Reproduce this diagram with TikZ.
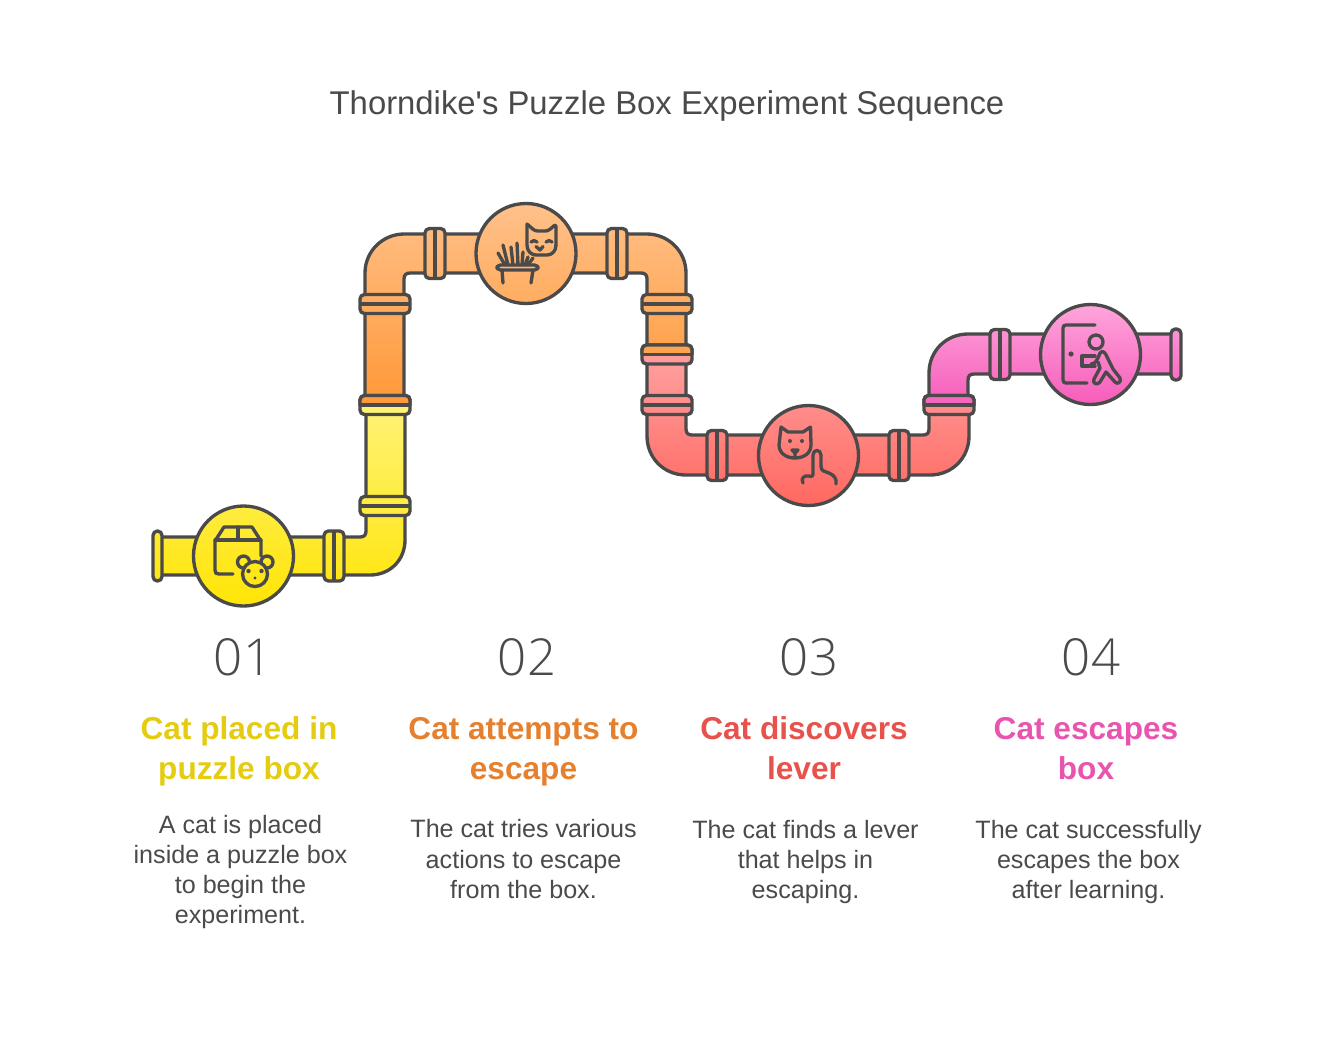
\documentclass[tikz,border=0pt]{standalone}
\usepackage{fontspec}
\setmainfont{Liberation Sans}
\newfontfamily\lightfont{Open Sans Light}
\usepackage{xcolor}
\usepackage{tikz}
\definecolor{inkgray}{RGB}{74,74,74}
\definecolor{yellowtop}{RGB}{255,243,125}
\definecolor{yellowbot}{RGB}{255,229,5}
\definecolor{orangetop}{RGB}{255,193,138}
\definecolor{orangebot}{RGB}{255,152,55}
\definecolor{redtop}{RGB}{255,160,160}
\definecolor{redbot}{RGB}{255,104,96}
\definecolor{pinktop}{RGB}{255,166,220}
\definecolor{pinkbot}{RGB}{246,92,186}
\definecolor{headyellow}{RGB}{229,204,16}
\definecolor{headorange}{RGB}{229,129,46}
\definecolor{headred}{RGB}{232,82,77}
\definecolor{headpink}{RGB}{232,85,174}
\tikzset{
  pipeline/.style={draw=inkgray,line width=1.9pt,line join=round},
  iconline/.style={draw=inkgray,line width=1.9pt,line cap=round,line join=round},
  yellowfill/.style={pipeline,path picture={\shade[top color=yellowtop,bottom color=yellowbot] (0,395) rectangle (1334,607);}},
  orangefill/.style={pipeline,path picture={\shade[top color=orangetop,bottom color=orangebot] (0,202) rectangle (1334,405);}},
  redfill/.style={pipeline,path picture={\shade[top color=redtop,bottom color=redbot] (0,354) rectangle (1334,507);}},
  pinkfill/.style={pipeline,path picture={\shade[top color=pinktop,bottom color=pinkbot] (0,303) rectangle (1334,405);}}
}
% upright flange across a horizontal run
\newcommand{\flangeV}[3]{
  \draw[#3,rounded corners=2.5pt] (#1-10,#2-25) rectangle (#1+10,#2+25);
  \draw[pipeline] (#1,#2-25)--(#1,#2+25);
}
% flat flange across a vertical run
\newcommand{\flangeH}[3]{
  \draw[#3,rounded corners=2.5pt] (#1-25,#2-9.5) rectangle (#1+25,#2+9.5);
  \draw[pipeline] (#1-25,#2)--(#1+25,#2);
}
% flat flange where two colours meet
\newcommand{\flangeJoin}[4]{
  \draw[#4,rounded corners=2.5pt] (#1-25,#2-9.5) rectangle (#1+25,#2+9.5);
  \begin{scope}
    \clip (#1-30,#2-14) rectangle (#1+30,#2);
    \draw[#3,rounded corners=2.5pt] (#1-25,#2-9.5) rectangle (#1+25,#2+9.5);
  \end{scope}
  \draw[pipeline] (#1-25,#2)--(#1+25,#2);
}
\begin{document}
\begin{tikzpicture}[
  x=0.02cm,y=-0.02cm,
  titletext/.style={font=\fontsize{18.7}{22}\selectfont,text=inkgray},
  numtext/.style={font=\lightfont\fontsize{29}{34}\selectfont,text=inkgray},
  headtext/.style={font=\bfseries\fontsize{18}{22.7}\selectfont,align=center},
  bodytext/.style={font=\fontsize{14.3}{17.1}\selectfont,align=center,text=inkgray}
]
\useasboundingbox (0,0) rectangle (1334,1052);

\node[titletext] (title) at (667,106) {Thorndike\textquotesingle s Puzzle Box Experiment Sequence};

% pipe runs
\draw[yellowfill] (160,537)--(360,537).. controls (364,537) and (366,535) .. (366,531)
  --(366,405)--(405,405)--(405,540).. controls (405,560) and (390,575) .. (370,575)--(160,575)--cycle;
\draw[orangefill] (365,405)--(365,273).. controls (365,251) and (383,234) .. (404,234)
  --(647,234).. controls (668,234) and (686,251) .. (686,273)--(686,354)--(647,354)--(647,279)
  .. controls (647,275) and (645,273) .. (641,273)--(410,273).. controls (406,273) and (404,275) .. (404,279)--(404,405)--cycle;
\draw[redfill] (647,354)--(647,436).. controls (647,458) and (664,475) .. (686,475)
  --(930,475).. controls (952,475) and (969,458) .. (969,436)--(969,405)--(929,405)--(929,429)
  .. controls (929,433) and (927,435) .. (923,435)--(692,435).. controls (688,435) and (686,433) .. (686,429)--(686,354)--cycle;
\draw[pinkfill] (929,405)--(929,373).. controls (929,351) and (946,334) .. (968,334)
  --(1175,334)--(1175,374)--(974,374).. controls (970,374) and (968,376) .. (968,380)--(968,405)--cycle;

% flanges
\draw[yellowfill,rounded corners=2.5pt] (153,531) rectangle (162,581);
\flangeV{334}{556}{yellowfill}
\flangeH{385}{506}{yellowfill}
\flangeJoin{385}{405}{orangefill}{yellowfill}
\flangeH{385}{304}{orangefill}
\flangeV{435}{253.5}{orangefill}
\flangeV{617}{253.5}{orangefill}
\flangeH{667}{304}{orangefill}
\flangeJoin{667}{354.5}{orangefill}{redfill}
\flangeH{667}{405}{redfill}
\flangeV{717}{455.5}{redfill}
\flangeV{899}{455.5}{redfill}
\flangeJoin{949}{405}{pinkfill}{redfill}
\flangeV{1000}{354.5}{pinkfill}
\draw[pinkfill,rounded corners=2.5pt] (1171,329) rectangle (1181,380);

% hubs
\draw[yellowfill] (243.5,556) circle[radius=50];
\draw[orangefill] (526,253.5) circle[radius=50];
\draw[redfill] (808.5,455.5) circle[radius=50];
\draw[pinkfill] (1090.5,354.5) circle[radius=50];

% box and bear
\draw[iconline] (233,574)--(219,574).. controls (216,574) and (215,573) .. (215,570)--(215,541)--(224,527)--(252,527)--(261,541)--(261,556);
\draw[iconline] (215,540)--(261,540) (238,527)--(238,540);
\draw[yellowfill,iconline] (243.5,562) circle[radius=6];
\draw[yellowfill,iconline] (267,562) circle[radius=6];
\draw[yellowfill,iconline] (255,574) circle[radius=12.5];
\fill[inkgray] (248.5,571) circle[radius=2.2] (261.5,571) circle[radius=2.2] (255,578) circle[radius=1.6];

% cat on a spiky table
\draw[iconline,rounded corners=1.5pt] (527,224)--(535,231)--(548,231)--(556,224)--(556,245);
\draw[iconline] (556,245).. controls (556,251) and (552,255) .. (547,255)--(536,255).. controls (531,255) and (527,251) .. (527,245)--(527,224);
\draw[iconline] (531,242).. controls (533,240) and (535,240) .. (537,242) (546,242).. controls (548,240) and (550,240) .. (552,242);
\draw[iconline] (536,246.5)--(540,250)--(543,246.5);
\draw[iconline,rounded corners=2pt] (497,265) rectangle (538,270);
\draw[iconline] (502,270)--(503,283) (533,270)--(531,283);
\draw[iconline] (498,253)--(505,265) (503,245)--(508,265) (511,247)--(513,265) (517,243)--(518,265) (523,252)--(522,265) (528,257)--(525,265) (533,258)--(528,265);

% cat and pointing hand
\draw[iconline] (781,427)--(788,432)--(803,432)--(810.5,427)--(811,445).. controls (811,453) and (804,458) .. (795,458).. controls (786,458) and (779,453) .. (779,445)--cycle;
\fill[inkgray] (790,441) circle[radius=2] (802,441) circle[radius=2];
\draw[iconline] (792,450)--(798,450)--(795,453)--cycle (795,453)--(795,457);
\draw[iconline] (803,483).. controls (800,478) and (805,475) .. (809,476).. controls (812,477) and (813,476) .. (813,473)--(813,455)
  .. controls (813,449) and (821,449) .. (821,455)--(821,466).. controls (821,472) and (825,471) .. (829,473).. controls (834,475) and (837,479) .. (836,484);

% person leaving through a door
\draw[iconline] (1095,325)--(1066,325).. controls (1064,325) and (1063,326) .. (1063,328)--(1063,380).. controls (1063,382) and (1064,383) .. (1066,383)--(1087,383);
\fill[inkgray] (1071,354) circle[radius=2.6];
\draw[iconline] (1096,342) circle[radius=7];
\draw[iconline] (1095,356)--(1082,356)--(1082,366)--(1095,366);
\draw[iconline] (1091,364).. controls (1095,364) and (1097,361) .. (1100,353).. controls (1103,349) and (1106,354) .. (1107,357)--(1113,369)--(1120,378)
  .. controls (1122,382) and (1117,385) .. (1115,382)--(1106,372)--(1100,382).. controls (1097,386) and (1092,383) .. (1094,379)--(1100,368)--(1098,362);

% labels
\node[numtext] (num1) at (243,657) {01};
\node[numtext] (num2) at (527,657) {02};
\node[numtext] (num3) at (809,657) {03};
\node[numtext] (num4) at (1091,657) {04};

\node[headtext,text=headyellow] (head1) at (239,751) {Cat placed in\\puzzle box};
\node[headtext,text=headorange] (head2) at (523.5,752) {Cat attempts to\\escape};
\node[headtext,text=headred] (head3) at (804,748) {Cat discovers\\lever};
\node[headtext,text=headpink] (head4) at (1086,749) {Cat escapes\\box};

\node[bodytext] (body1) at (240.5,872) {A cat is placed\\inside a puzzle box\\to begin the\\experiment.};
\node[bodytext] (body2) at (523.5,859) {The cat tries various\\actions to escape\\from the box.};
\node[bodytext] (body3) at (805.5,862) {The cat finds a lever\\that helps in\\escaping.};
\node[bodytext] (body4) at (1088.5,862) {The cat successfully\\escapes the box\\after learning.};
\end{tikzpicture}
\end{document}
